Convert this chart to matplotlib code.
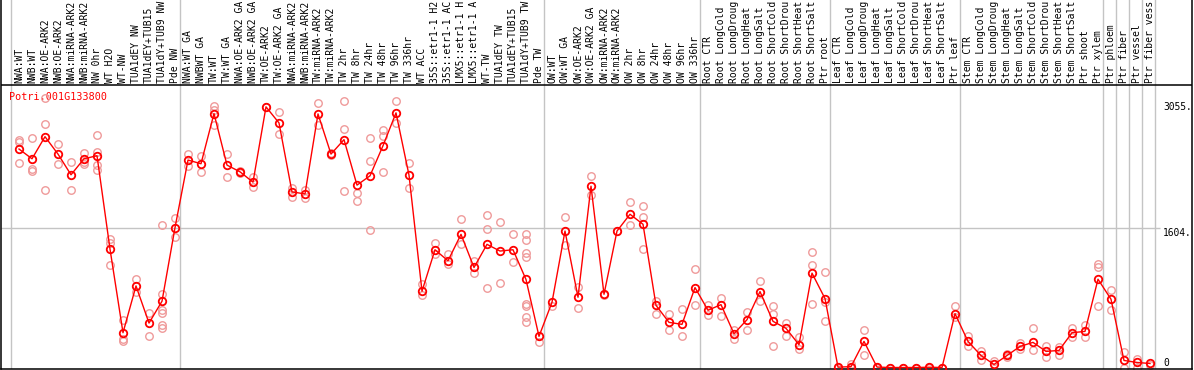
import matplotlib
matplotlib.use("Agg")
import matplotlib.pyplot as plt

labels = ["NWA:WT", "NWB:WT", "NWA:OE-ARK2", "NWB:OE-ARK2", "NWA:miRNA-ARK2", "NWB:miRNA-ARK2",
          "NW 0hr", "WT H2O", "WT-NW", "TUA1dEY NW", "TUA1dEY+TUB15", "TUA1dY+TUB9 NW", "Pde NW",
          "NWA:WT GA", "NWBWT GA", "TW:WT", "TW:WT GA", "NWA:OE-ARK2 GA", "NWB:OE-ARK2 GA",
          "TW:OE-ARK2", "TW:OE-ARK2 GA", "NWA:miRNA-ARK2", "NWB:miRNA-ARK2", "TW:miRNA-ARK2",
          "TW:miRNA-ARK2", "TW 2hr", "TW 8hr", "TW 24hr", "TW 48hr", "TW 96hr", "TW 336hr",
          "WT ACC", "35S::etr1-1 H2", "35S::etr1-1 AC", "LMX5::etr1-1 H", "LMX5::etr1-1 A",
          "WT-TW", "TUA1dEY TW", "TUA1dEY+TUB15", "TUA1dY+TUB9 TW", "Pde TW",
          "OW:WT", "OW:WT GA", "OW:OE-ARK2", "OW:OE-ARK2 GA", "OW:miRNA-ARK2", "OW:miRNA-ARK2",
          "OW 2hr", "OW 8hr", "OW 24hr", "OW 48hr", "OW 96hr", "OW 336hr",
          "Root CTR", "Root LongCold", "Root LongDroug", "Root LongHeat", "Root LongSalt",
          "Root ShortCold", "Root ShortDrou", "Root ShortHeat", "Root ShortSalt", "Ptr root",
          "Leaf CTR", "Leaf LongCold", "Leaf LongDroug", "Leaf LongHeat", "Leaf LongSalt",
          "Leaf ShortCold", "Leaf ShortDrou", "Leaf ShortHeat", "Leaf ShortSalt", "Ptr leaf",
          "Stem CTR", "Stem LongCold", "Stem LongDroug", "Stem LongHeat", "Stem LongSalt",
          "Stem ShortCold", "Stem ShortDrou", "Stem ShortHeat", "Stem ShortSalt", "Ptr shoot",
          "Ptr xylem", "Ptr phloem", "Ptr fiber", "Ptr vessel", "Ptr fiber vess"]

means = [2512, 2400, 2654, 2454, 2216, 2400, 2435, 1362, 400, 938, 511, 762, 1608,
         2385, 2343, 2920, 2327, 2250, 2131, 2997, 2812, 2019, 1996, 2916, 2454, 2620, 2097,
         2204, 2550, 2928, 2212, 877, 1354, 1227, 1531, 1150, 1416, 1339, 1354, 1012, 358,
         750, 1569, 808, 2085, 842, 1569, 1762, 1647, 715, 519, 496, 919,
         658, 723, 388, 550, 873, 531, 450, 262, 1085, 793,
         4, 10, 300, 5, 0, 0, 0, 3, 0, 619,
         300, 138, 35, 138, 242, 289, 185, 196, 400, 415, 1015,
         785, 81, 58, 46]

replicates = [
    [2620, 2589, 2350], [2639, 2285, 2262], [3101, 2801, 2043], [2573, 2339], [2362, 2043],
    [2466, 2358, 2343], [2677, 2477, 2331, 2273], [1477, 1427, 1177], [550, 331, 304],
    [1015, 869], [627, 366], [1639, 842, 658, 627, 485, 454], [1716, 1504],
    [2454, 2320], [2427, 2247], [3004, 2966, 2793], [2454, 2196], [2262, 2235], [2189, 2081],
    [2997], [2939, 2685], [2062, 1965], [2043, 1947], [3043, 2793], [2466, 2440],
    [3070, 2743, 2031], [2012, 1919], [2639, 2377, 1581], [2735, 2666, 2247], [3062, 2812],
    [2350, 2062], [958, 831], [1427, 1304], [1304, 1189], [1704, 1416], [1227, 1088],
    [1750, 1589, 919], [1670, 966], [1531, 1208], [1531, 1466, 1312, 1266, 735, 704, 581, 523],
    [292],
    [712], [1727, 1408], [927, 689], [2204, 1985], [831], [1569], [1904, 1635],
    [1858, 1727, 1358], [765, 619], [612, 427], [677, 361], [1127, 715],
    [715, 608], [796, 596], [427, 331], [638, 427], [992, 765], [704, 612, 250], [511, 366],
    [350, 216], [1323, 1177, 735], [1093, 754, 531],
    [0], [35, 0], [435, 147], [0], [0], [0], [0], [0], [0], [704, 581],
    [358, 242], [185, 89], [73], [158, 120], [281, 216], [458, 204], [242, 119], [235, 147],
    [458, 350], [485, 350], [1189, 1158, 704],
    [889, 666], [177, 0], [100, 0], [30]]

group_starts = [0, 13, 41, 53, 63, 73, 84, 85, 86, 87, 88]
y_ticks = [0, 1604, 3055]
y_tick_labels = ["0", "1604.", "3055."]
title = "Potri.001G133800"

W, H = 1194, 370
fig = plt.figure(figsize=(W / 100, H / 100), dpi=100)
ax = fig.add_axes([1 / W, 1 / H, 1191 / W, 369 / H])

scale = 0.08697  # px per unit
ax.set_ylim(-1.5 / scale, 367.5 / scale)
ax.set_xlim((1 - 19) / 13, (1192 - 19) / 13)
ax.set_xticks([])
ax.set_yticks([])
for s in ["left", "right", "bottom"]:
    ax.spines[s].set_linewidth(1.1)
ax.spines["top"].set_visible(False)

mono = "DejaVu Sans Mono"
gray = "#c4c4c4"

# group separators
for g in group_starts:
    ax.axvline(g - 0.6, color=gray, lw=1.0, zorder=0)
# horizontal gridline
ax.hlines(1604, ax.get_xlim()[0], 87.8, color=gray, lw=1.0, zorder=0)
# header separator line
ax.axhline((367.5 - 85) / scale, color="black", lw=1.1)

xs = list(range(len(means)))
for i, reps in enumerate(replicates):
    ax.plot([i] * len(reps), reps, linestyle="none", marker="o", ms=5.4, mfc="none",
            mec="#ef9a9a", mew=1.0, zorder=2, clip_on=False)
ax.plot(xs, means, color="#ff0000", lw=1.0, marker="o", ms=5.4, mfc="none", mec="#ff0000",
        mew=1.3, zorder=3, clip_on=False)

trans = ax.get_xaxis_transform()
for i, lab in enumerate(labels):
    ax.text(i, (369 - 83) / 369, lab, rotation=90, ha="center", va="bottom",
            fontsize=7.0, family=mono, transform=trans, clip_on=False)

ax.text((9 - 19) / 13, (367.5 - 96.7) / scale, title, color="#ff0000", fontsize=7.3,
        family=mono, ha="left", va="center", zorder=1)

xl = (1163 - 19) / 13
for v, t in zip(y_ticks, y_tick_labels):
    ax.text(xl, v, t, fontsize=6.9, family=mono, ha="left", va="bottom" if v == 0 else "top")

fig.savefig("out.png", dpi=100)
